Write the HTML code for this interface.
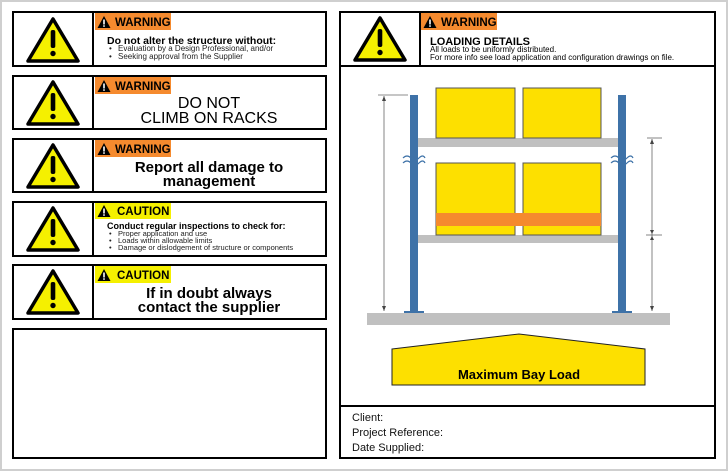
<!DOCTYPE html>
<html><head><style>
body{margin:0;background:#fff;}
svg{display:block;font-family:"Liberation Sans",Arial,sans-serif;}
</style></head><body>
<svg width="728" height="471" viewBox="0 0 728 471" xmlns="http://www.w3.org/2000/svg">
<defs>
<g id="tri">
<polygon points="0,-22 25,20 -25,20" fill="#f5f000" stroke="#000" stroke-width="3.5" stroke-linejoin="round"/>
<rect x="-2.3" y="-11" width="4.6" height="18" rx="2" fill="#000"/>
<circle cx="0" cy="12.5" r="2.7" fill="#000"/>
</g>
<g id="sm">
<polygon points="0,-6 6.5,6 -6.5,6" fill="#000"/>
<rect x="-0.8" y="-2.5" width="1.6" height="5" fill="#fff"/>
<rect x="-0.8" y="3.3" width="1.6" height="1.5" fill="#fff"/>
</g>
</defs>
<rect x="0.5" y="0.5" width="727" height="470" fill="#fff" stroke="#cfcfcf" stroke-width="3"/>

<g stroke="#000" stroke-width="2" fill="none">
<rect x="13" y="12" width="313" height="54"/><line x1="93" y1="12" x2="93" y2="66"/>
<rect x="13" y="76" width="313" height="53"/><line x1="93" y1="76" x2="93" y2="129"/>
<rect x="13" y="139" width="313" height="53"/><line x1="93" y1="139" x2="93" y2="192"/>
<rect x="13" y="202" width="313" height="54"/><line x1="93" y1="202" x2="93" y2="256"/>
<rect x="13" y="265" width="313" height="54"/><line x1="93" y1="265" x2="93" y2="319"/>
<rect x="13" y="329" width="313" height="129"/>
</g>
<use href="#tri" x="53" y="41"/>
<use href="#tri" x="53" y="104"/>
<use href="#tri" x="53" y="167"/>
<use href="#tri" x="53" y="230"/>
<use href="#tri" x="53" y="293"/>

<rect x="95" y="13" width="76" height="17" fill="#f58a2e"/><use href="#sm" x="104" y="22"/>
<text x="115" y="26" font-size="11.5" font-weight="bold">WARNING</text>
<rect x="95" y="77" width="76" height="17" fill="#f58a2e"/><use href="#sm" x="104" y="86"/>
<text x="115" y="90" font-size="11.5" font-weight="bold">WARNING</text>
<rect x="95" y="140" width="76" height="17" fill="#f58a2e"/><use href="#sm" x="104" y="149"/>
<text x="115" y="153" font-size="11.5" font-weight="bold">WARNING</text>
<rect x="95" y="203" width="76" height="16" fill="#f5f000"/><use href="#sm" x="104" y="211"/>
<text x="117" y="215" font-size="11.5" font-weight="bold">CAUTION</text>
<rect x="95" y="266" width="76" height="17" fill="#f5f000"/><use href="#sm" x="104" y="275"/>
<text x="117" y="279" font-size="11.5" font-weight="bold">CAUTION</text>

<text x="107" y="44" font-size="10.5" font-weight="bold">Do not alter the structure without:</text>
<text font-size="8" fill="#222"><tspan x="109" y="51">•</tspan><tspan x="118" y="51">Evaluation by a Design Professional, and/or</tspan><tspan x="109" y="59">•</tspan><tspan x="118" y="59">Seeking approval from the Supplier</tspan></text>

<text x="209" y="108" font-size="16" text-anchor="middle">DO NOT</text>
<text x="209" y="123" font-size="16" text-anchor="middle">CLIMB ON RACKS</text>

<text x="209" y="172" font-size="15" font-weight="bold" text-anchor="middle">Report all damage to</text>
<text x="209" y="186" font-size="15" font-weight="bold" text-anchor="middle">management</text>

<text x="107" y="229" font-size="9" font-weight="bold">Conduct regular inspections to check for:</text>
<text font-size="7.5" fill="#222"><tspan x="109" y="236">•</tspan><tspan x="118" y="236">Proper application and use</tspan><tspan x="109" y="243">•</tspan><tspan x="118" y="243">Loads within allowable limits</tspan><tspan x="109" y="250">•</tspan><tspan x="118" y="250">Damage or dislodgement of structure or components</tspan></text>

<text x="209" y="298" font-size="15" font-weight="bold" text-anchor="middle">If in doubt always</text>
<text x="209" y="312" font-size="15" font-weight="bold" text-anchor="middle">contact the supplier</text>

<g stroke="#000" stroke-width="2" fill="none">
<rect x="340" y="12" width="375" height="446"/>
<line x1="340" y1="66" x2="715" y2="66"/>
<line x1="420" y1="12" x2="420" y2="66"/>
<line x1="340" y1="406" x2="715" y2="406"/>
</g>
<use href="#tri" x="380" y="40"/>
<rect x="421" y="13" width="76" height="17" fill="#f58a2e"/><use href="#sm" x="430" y="22"/>
<text x="441" y="26" font-size="11.5" font-weight="bold">WARNING</text>
<text x="430" y="45" font-size="11" font-weight="bold">LOADING DETAILS</text>
<text x="430" y="52" font-size="8">All loads to be uniformly distributed.</text>
<text x="430" y="60" font-size="8">For more info see load application and configuration drawings on file.</text>

<rect x="367" y="313" width="303" height="12" fill="#c0c0c0"/>
<rect x="418" y="138" width="200" height="9" fill="#c0c0c0"/>
<rect x="418" y="235" width="200" height="8" fill="#c0c0c0"/>
<g fill="#fde000" stroke="#555" stroke-width="1">
<rect x="436" y="88" width="79" height="50"/>
<rect x="523" y="88" width="78" height="50"/>
<rect x="436" y="163" width="79" height="72"/>
<rect x="523" y="163" width="78" height="72"/>
</g>
<rect x="436" y="213" width="165" height="13" fill="#f58a2e"/>
<rect x="410" y="95" width="8" height="217" fill="#3e72a8"/>
<rect x="618" y="95" width="8" height="217" fill="#3e72a8"/>
<rect x="404" y="311" width="20" height="2" fill="#3e72a8"/>
<rect x="612" y="311" width="20" height="2" fill="#3e72a8"/>
<g stroke="#3e72a8" stroke-width="1.2" fill="none">
<path d="M403,158 q4,-4 8,0 t8,0 t6,0"/><path d="M403,163 q4,-4 8,0 t8,0 t6,0"/>
<path d="M611,158 q4,-4 8,0 t8,0 t6,0"/><path d="M611,163 q4,-4 8,0 t8,0 t6,0"/>
</g>
<g stroke="#666" stroke-width="0.8" fill="none">
<line x1="378" y1="95" x2="408" y2="95"/><line x1="384" y1="96" x2="384" y2="311"/>
<line x1="647" y1="138" x2="662" y2="138"/><line x1="652" y1="139" x2="652" y2="311"/>
<line x1="646" y1="235" x2="662" y2="235"/>
</g>
<g fill="#444">
<polygon points="384,96 382,101 386,101"/><polygon points="384,311 382,306 386,306"/>
<polygon points="652,139 650,144 654,144"/><polygon points="652,311 650,306 654,306"/>
<polygon points="652,234 650,230 654,230"/><polygon points="652,236 650,240 654,240"/>
</g>
<polygon points="392,349 519,334 645,349 645,385 392,385" fill="#fde000" stroke="#222" stroke-width="1"/>
<text x="519" y="379" font-size="13" font-weight="bold" text-anchor="middle">Maximum Bay Load</text>

<text font-size="11" fill="#111"><tspan x="352" y="421">Client:</tspan><tspan x="352" y="436">Project Reference:</tspan><tspan x="352" y="451">Date Supplied:</tspan></text>
</svg>
</body></html>
